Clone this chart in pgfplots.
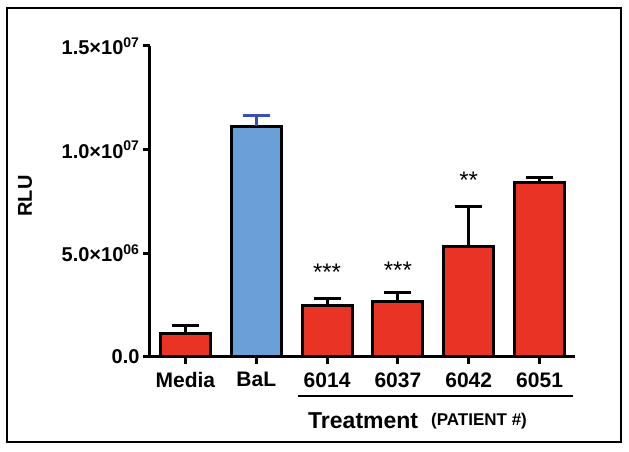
\documentclass[border=0pt]{standalone}
\usepackage{pgfplots}
\pgfplotsset{compat=1.18}
\usepackage{pgfplotstable}
\usepackage{fontspec}
\setmainfont{Liberation Sans}
\definecolor{barred}{RGB}{233,51,36}
\definecolor{barblue}{RGB}{106,160,216}
\definecolor{errblue}{RGB}{56,80,176}
\pgfplotstableread{
x y e
0 1.11e6 0.39e6
2 2.46e6 0.34e6
3 2.70e6 0.39e6
4 5.35e6 1.93e6
5 8.44e6 0.24e6
}\reddata
\pgfplotstableread{
x y e
1 11.14e6 0.53e6
}\bluedata
\begin{document}
\begin{tikzpicture}
\path[use as bounding box] (-150pt,-95pt) rectangle (479pt,357pt);
\draw[line width=2pt] (-142.5pt,-85pt) rectangle (470.5pt,349pt);
\begin{axis}[
  at={(0pt,0pt)}, anchor=south west,
  width=425pt, height=311pt, scale only axis,
  xmin=-0.5, xmax=5.5, ymin=0, ymax=1.5e7,
  axis x line*=bottom, axis y line*=left,
  axis line style={-, line width=3pt, black},
  xtick={0,1,2,3,4,5},
  xticklabels={Media,BaL,6014,6037,6042,6051},
  ytick={0,5e6,1e7,1.5e7},
  yticklabels={0.0, 5.0×10\textsuperscript{06}, 1.0×10\textsuperscript{07}, 1.5×10\textsuperscript{07}},
  scaled y ticks=false,
  tick align=outside,
  major tick length=7pt,
  tick style={line width=3pt, black},
  xticklabel style={font=\bfseries\fontsize{21}{21}\selectfont, yshift=-5pt},
  yticklabel style={font=\bfseries\fontsize{20}{20}\selectfont},
  ybar, bar width=50pt, bar shift=0pt,
  clip=false,
]
\addplot[fill=barred, draw=black, line width=3pt,
  error bars/.cd, y dir=plus, y explicit,
  error bar style={line width=3pt, black},
  error mark options={rotate=90, mark size=13.5pt, line width=3pt, black}]
  table[x=x, y=y, y error plus=e]{\reddata};
\addplot[fill=barblue, draw=black, line width=3pt,
  error bars/.cd, y dir=plus, y explicit,
  error bar style={line width=3pt, errblue},
  error mark options={rotate=90, mark size=13.5pt, line width=3pt, errblue}]
  table[x=x, y=y, y error plus=e]{\bluedata};
\node[anchor=base, font=\fontsize{24}{24}\selectfont, inner sep=0pt] at (axis cs:2,3.70e6) {***};
\node[anchor=base, font=\fontsize{24}{24}\selectfont, inner sep=0pt] at (axis cs:3,3.80e6) {***};
\node[anchor=base, font=\fontsize{24}{24}\selectfont, inner sep=0pt] at (axis cs:4,8.15e6) {**};
\end{axis}
\draw[line width=2pt] (148pt,-39pt) -- (423pt,-39pt);
\node[anchor=base west, inner sep=0pt, font=\bfseries\fontsize{23}{23}\selectfont] at (158pt,-72pt) {Treatment};
\node[anchor=base west, inner sep=0pt, font=\bfseries\fontsize{17}{17}\selectfont] at (281pt,-69pt) {(PATIENT \#)};
\node[rotate=90, inner sep=0pt, font=\bfseries\fontsize{20}{20}\selectfont] at (-125pt,161pt) {RLU};
\end{tikzpicture}
\end{document}
